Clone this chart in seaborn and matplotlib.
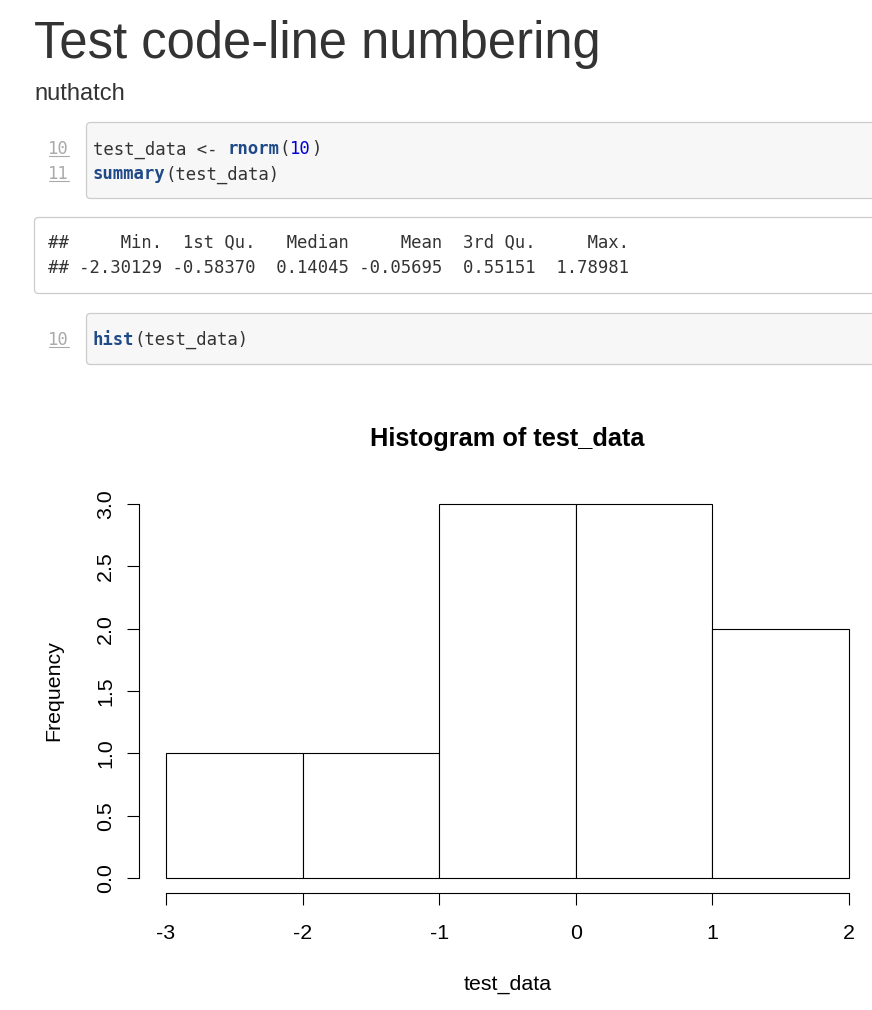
import numpy as np
import pandas as pd
import matplotlib
matplotlib.use("Agg")
import matplotlib.pyplot as plt
from matplotlib.patches import FancyBboxPatch
import seaborn as sns

# histogram data (counts)
bin_edges = [-3, -2, -1, 0, 1, 2]
counts = [1, 1, 3, 3, 2]
x_ticks = [-3, -2, -1, 0, 1, 2]
y_ticks = [0.0, 0.5, 1.0, 1.5, 2.0, 2.5, 3.0]

page_title = "Test code-line numbering"
page_author = "nuthatch"
chunk1 = [
    [("test_data <- ", "plain"), ("rnorm", "kw"), ("(", "plain"), ("10", "num"), (")", "plain")],
    [("summary", "kw"), ("(test_data)", "plain")],
]
chunk1_nums = ["10", "11"]
output_lines = [
    "##     Min.  1st Qu.   Median     Mean  3rd Qu.     Max. ",
    "## -2.30129 -0.58370  0.14045 -0.05695  0.55151  1.78981 ",
]
chunk2 = [[("hist", "kw"), ("(test_data)", "plain")]]
chunk2_nums = ["10"]

hist_df = pd.DataFrame({
    'mid': [(a + b) / 2 for a, b in zip(bin_edges[:-1], bin_edges[1:])],
    'count': counts,
})

sns.set_theme(style="ticks")
plt.rcParams['font.family'] = ['Liberation Sans', 'DejaVu Sans']
plt.rcParams['axes.unicode_minus'] = False

W, H = 872, 1010
fig = plt.figure(figsize=(W / 100, H / 100), dpi=100)

# page layer in pixel coordinates
page = fig.add_axes([0, 0, 1, 1])
page.set_xlim(0, W)
page.set_ylim(H, 0)
page.axis('off')

page.text(34, 58.3, page_title, fontsize=36.5, color='#333333', va='baseline')
page.text(34.5, 100, page_author, fontsize=17, color='#333333', va='baseline')

cw = 10.4  # monospace char width in px
mono_size = cw / 0.602 * 0.72
styles = {
    'plain': dict(color='#333333', fontweight='normal'),
    'kw': dict(color='#204a87', fontweight='bold'),
    'num': dict(color='#0000cf', fontweight='normal'),
}


def draw_box(x, y, w, h, fc):
    page.add_patch(FancyBboxPatch((x, y), w, h, boxstyle="round,pad=0,rounding_size=4",
                                  fc=fc, ec='#cccccc', lw=0.9))


def draw_code(x0, y, segs):
    n = 0
    for txt, st in segs:
        page.text(x0 + n * cw, y, txt, family='DejaVu Sans Mono', fontsize=mono_size,
                  va='baseline', **styles[st])
        n += len(txt)


def draw_linenum(y, num):
    page.text(48, y, num, family='DejaVu Sans Mono', fontsize=mono_size,
              color='#aaaaaa', va='baseline')
    page.plot([49, 69], [y + 2, y + 2], color='#aaaaaa', lw=0.8)


draw_box(86.5, 122.5, 820, 76, '#f7f7f7')
for i, segs in enumerate(chunk1):
    yb = 154.3 + i * 25
    draw_code(92.5, yb, segs)
    draw_linenum(yb, chunk1_nums[i])

draw_box(34.5, 217.5, 870, 76, 'white')
for i, line in enumerate(output_lines):
    page.text(47.5, 248.3 + i * 25, line, family='DejaVu Sans Mono', fontsize=mono_size,
              color='#333333', va='baseline')

draw_box(86.5, 313.5, 820, 51, '#f7f7f7')
for i, segs in enumerate(chunk2):
    draw_code(92.5, 345, segs)
    draw_linenum(345, chunk2_nums[i])

# histogram, R base style
left, right, top, bottom = 138.7, 876.3, 489, 893
ax = fig.add_axes([left / W, (H - bottom) / H, (right - left) / W, (bottom - top) / H])
sns.histplot(data=hist_df, x='mid', weights='count', bins=bin_edges, color='white',
             edgecolor='black', linewidth=0.8, alpha=1, ax=ax)
ax.set_xlim(-3.2, 2.2)
ax.set_ylim(-0.12, 3.12)
ax.set_facecolor('none')
ax.spines['top'].set_visible(False)
ax.spines['right'].set_visible(False)
ax.spines['left'].set_bounds(0, 3)
ax.spines['bottom'].set_bounds(-3, 2)
for s in ['left', 'bottom']:
    ax.spines[s].set_linewidth(0.8)
    ax.spines[s].set_color('black')
ax.set_xticks(x_ticks)
ax.set_xticklabels([str(v) for v in x_ticks])
ax.set_yticks(y_ticks)
ax.set_yticklabels([f"{v:.1f}" for v in y_ticks])
ax.tick_params(direction='out', length=8.6, width=0.8, labelsize=15.4, colors='black')
ax.tick_params(axis='x', pad=13.7)
ax.tick_params(axis='y', pad=8.3, labelrotation=90)
for t in ax.yaxis.get_major_ticks():
    t.label1.set_va('center')

ax.set_title("Histogram of test_data", fontsize=18.3, fontweight='bold', color='black',
             y=(bottom - 446) / (bottom - top), pad=0)
ax.set_xlabel("test_data", fontsize=15.4, color='black')
ax.set_ylabel("Frequency", fontsize=15.4, color='black')
ax.xaxis.set_label_coords(0.5, (bottom - 975) / (bottom - top))
ax.yaxis.set_label_coords((63.5 - left) / (right - left), 0.5)

fig.savefig("out.png", dpi=100)
